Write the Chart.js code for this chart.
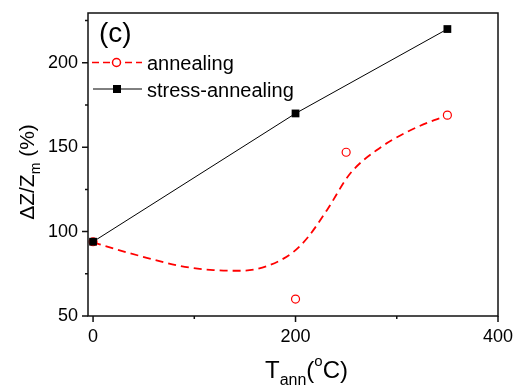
<!DOCTYPE html>
<html><head><meta charset="utf-8">
<script src="https://cdn.jsdelivr.net/npm/chart.js@4.4.1/dist/chart.umd.min.js"></script>
<style>html,body{margin:0;padding:0;background:#fff}#wrap{width:513px;height:388px}</style>
</head><body><div id="wrap"><canvas id="c" width="513" height="388"></canvas></div>
<script>
const stressT = [0, 200, 350];
const stressVals = [94, 170, 220];
const annealT = [0, 200, 250, 350];
const annealVals = [94, 60, 147, 169];
const fitT = [0, 20, 53, 86, 119, 145, 172, 198, 212, 231, 254, 280, 310, 337, 350];
const fitVals = [93.6, 90, 84.5, 79.6, 77.2, 76.8, 79.6, 88, 96.5, 112.7, 134.4, 148.2, 159, 166, 168.5];
const xTicks = [0, 200, 400];
const xMinor = [100, 300];
const yTicks = [50, 100, 150, 200];
const yMinor = [75, 125, 175, 225];
const seriesNames = ['annealing', 'stress-annealing'];

const FONT = '"Liberation Sans", Arial, sans-serif';
const toXY = (xs, ys) => xs.map((x, i) => ({x: x, y: ys[i]}));

const deco = {
  id: 'deco',
  afterDraw(chart) {
    const ctx = chart.ctx, a = chart.chartArea;
    const xs = chart.scales.x, ys = chart.scales.y;
    ctx.save();
    // frame
    ctx.strokeStyle = '#111';
    ctx.lineWidth = 1.5;
    ctx.strokeRect(a.left, a.top, a.right - a.left, a.bottom - a.top);
    // ticks
    ctx.beginPath();
    xTicks.forEach(v => { const p = xs.getPixelForValue(v); ctx.moveTo(p, a.bottom); ctx.lineTo(p, a.bottom + 6); });
    xMinor.forEach(v => { const p = xs.getPixelForValue(v); ctx.moveTo(p, a.bottom); ctx.lineTo(p, a.bottom + 3); });
    yTicks.forEach(v => { const p = ys.getPixelForValue(v); ctx.moveTo(a.left, p); ctx.lineTo(a.left - 6, p); });
    yMinor.forEach(v => { const p = ys.getPixelForValue(v); ctx.moveTo(a.left, p); ctx.lineTo(a.left - 3, p); });
    ctx.stroke();

    ctx.fillStyle = '#000';
    // panel label
    ctx.font = '28px ' + FONT;
    ctx.textBaseline = 'alphabetic';
    ctx.textAlign = 'left';
    ctx.fillText('(c)', 99, 42);

    // legend
    ctx.font = '20px ' + FONT;
    ctx.strokeStyle = '#ff0000';
    ctx.lineWidth = 1.5;
    ctx.setLineDash([7, 4]);
    ctx.beginPath(); ctx.moveTo(92, 62.5); ctx.lineTo(142, 62.5); ctx.stroke();
    ctx.setLineDash([]);
    ctx.fillStyle = '#fff';
    ctx.beginPath(); ctx.arc(116.5, 62.5, 4, 0, Math.PI * 2); ctx.fill(); ctx.stroke();
    ctx.fillStyle = '#000';
    ctx.fillText(seriesNames[0], 147, 70);
    ctx.strokeStyle = '#000';
    ctx.lineWidth = 1;
    ctx.beginPath(); ctx.moveTo(93, 89); ctx.lineTo(142, 89); ctx.stroke();
    ctx.fillRect(113, 85, 8, 8);
    ctx.fillText(seriesNames[1], 147, 96.5);

    // x title
    let x = 265, base = 378;
    ctx.font = '24px ' + FONT;
    ctx.fillText('T', x, base); x += ctx.measureText('T').width;
    ctx.font = '16px ' + FONT;
    ctx.fillText('ann', x, base + 7); x += ctx.measureText('ann').width;
    ctx.font = '24px ' + FONT;
    ctx.fillText('(', x, base); x += ctx.measureText('(').width;
    ctx.font = '15px ' + FONT;
    ctx.fillText('o', x, base - 12); x += ctx.measureText('o').width;
    ctx.font = '24px ' + FONT;
    ctx.fillText('C)', x, base);

    // y title
    ctx.save();
    ctx.translate(34, 0);
    ctx.rotate(-Math.PI / 2);
    ctx.font = '21px ' + FONT;
    const p1 = '\u0394Z/Z', p3 = ' (%)';
    const w1 = ctx.measureText(p1).width, w3 = ctx.measureText(p3).width;
    ctx.font = '14px ' + FONT;
    const w2 = ctx.measureText('m').width;
    let yy = -(172 + (w1 + w2 + w3) / 2);
    ctx.font = '21px ' + FONT;
    ctx.fillText(p1, yy, 0); yy += w1;
    ctx.font = '14px ' + FONT;
    ctx.fillText('m', yy, 6); yy += w2;
    ctx.font = '21px ' + FONT;
    ctx.fillText(p3, yy, 0);
    ctx.restore();
    ctx.restore();
  }
};

new Chart(document.getElementById('c'), {
  type: 'line',
  data: {
    datasets: [
      {
        label: seriesNames[1],
        data: toXY(stressT, stressVals),
        borderColor: '#000', backgroundColor: '#000',
        borderWidth: 1, pointStyle: 'rect', pointRadius: 5.5,
        pointBorderWidth: 0, tension: 0
      },
      {
        label: seriesNames[0],
        data: toXY(annealT, annealVals),
        showLine: false,
        borderColor: '#ff0000', backgroundColor: '#fff',
        pointStyle: 'circle', pointRadius: 4, pointBorderWidth: 1.2
      },
      {
        label: 'fit',
        data: toXY(fitT, fitVals),
        borderColor: '#ff0000', borderWidth: 1.8, borderDash: [8, 5],
        pointRadius: 0, cubicInterpolationMode: 'monotone', fill: false
      }
    ]
  },
  options: {
    responsive: false, animation: false,
    layout: { padding: { left: 0, top: 13, right: 15, bottom: 0 } },
    plugins: { legend: { display: false }, tooltip: { enabled: false } },
    scales: {
      x: {
        type: 'linear', min: -5, max: 400,
        afterBuildTicks: s => { s.ticks = xTicks.map(v => ({ value: v })); },
        afterFit: s => { s.height = 72; s.paddingLeft = 0; s.paddingRight = 0; },
        grid: { display: true, drawOnChartArea: false, drawTicks: true, tickLength: 6, color: 'rgba(0,0,0,0)' },
        border: { display: false },
        ticks: { font: { size: 18, family: FONT }, color: '#000', padding: 4, maxRotation: 0 }
      },
      y: {
        type: 'linear', min: 50, max: 229.5,
        afterBuildTicks: s => { s.ticks = yTicks.map(v => ({ value: v })); },
        afterFit: s => { s.width = 88; s.paddingTop = 0; s.paddingBottom = 0; },
        grid: { display: true, drawOnChartArea: false, drawTicks: true, tickLength: 6, color: 'rgba(0,0,0,0)' },
        border: { display: false },
        ticks: { font: { size: 18, family: FONT }, color: '#000', padding: 4 }
      }
    }
  },
  plugins: [deco]
});
</script></body></html>
